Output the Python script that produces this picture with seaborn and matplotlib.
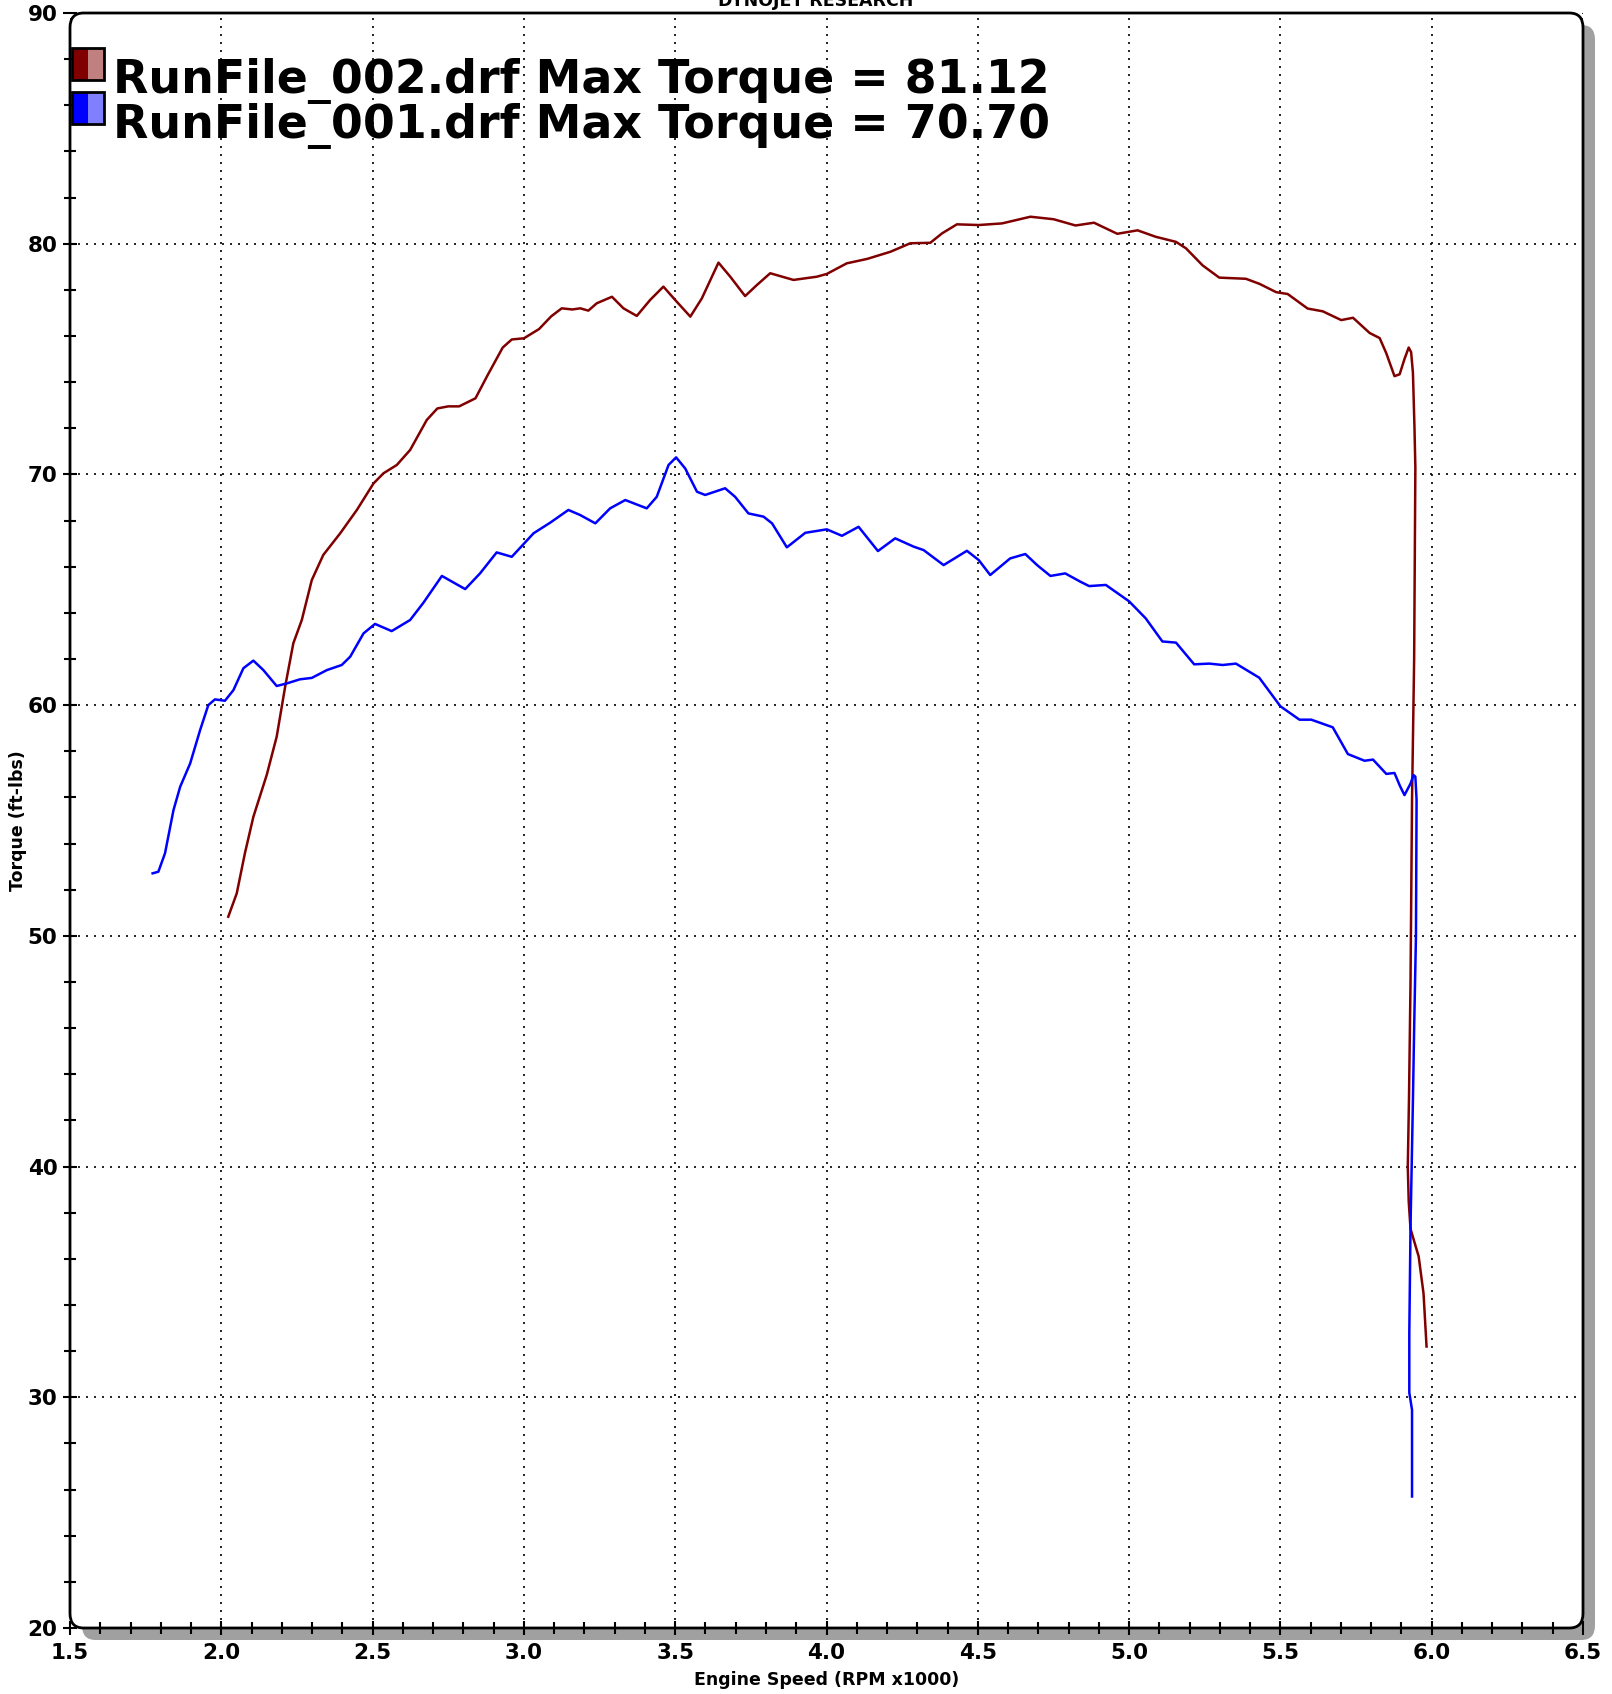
import numpy as np
import pandas as pd
import seaborn as sns
import matplotlib.pyplot as plt
from matplotlib.patches import FancyBboxPatch, Rectangle
from matplotlib.transforms import ScaledTranslation
from matplotlib.ticker import MultipleLocator

# RunFile_002 (red)
rpm_002 = [2.023, 2.051, 2.078, 2.106, 2.150, 2.183, 2.211, 2.238, 2.266, 2.299,
           2.337, 2.393, 2.448, 2.503, 2.536, 2.580, 2.624, 2.679, 2.714, 2.750,
           2.786, 2.840, 2.880, 2.930, 2.960, 3.000, 3.050, 3.090, 3.125, 3.160,
           3.186, 3.213, 3.241, 3.291, 3.329, 3.373, 3.417, 3.461, 3.500, 3.550,
           3.588, 3.643, 3.682, 3.731, 3.770, 3.814, 3.891, 3.968, 4.001, 4.067,
           4.134, 4.211, 4.277, 4.343, 4.382, 4.431, 4.503, 4.580, 4.674, 4.751,
           4.823, 4.884, 4.961, 5.028, 5.088, 5.155, 5.188, 5.243, 5.298, 5.386,
           5.431, 5.486, 5.524, 5.590, 5.640, 5.701, 5.740, 5.795, 5.828, 5.850,
           5.877, 5.894, 5.910, 5.924, 5.932, 5.938, 5.943, 5.946, 5.942, 5.935,
           5.930, 5.925, 5.921, 5.924, 5.930, 5.957, 5.973, 5.983]
tq_002 = [50.83, 51.84, 53.58, 55.16, 56.97, 58.63, 60.80, 62.68, 63.69, 65.42,
          66.51, 67.45, 68.46, 69.61, 70.05, 70.41, 71.06, 72.36, 72.86, 72.95,
          72.95, 73.30, 74.30, 75.50, 75.85, 75.90, 76.30, 76.85, 77.20, 77.15,
          77.20, 77.10, 77.42, 77.70, 77.20, 76.87, 77.56, 78.14, 77.56, 76.84,
          77.63, 79.18, 78.57, 77.73, 78.21, 78.72, 78.43, 78.57, 78.69, 79.15,
          79.34, 79.65, 80.02, 80.04, 80.45, 80.84, 80.81, 80.88, 81.17, 81.06,
          80.79, 80.91, 80.43, 80.58, 80.30, 80.08, 79.80, 79.06, 78.53, 78.48,
          78.26, 77.90, 77.82, 77.19, 77.07, 76.69, 76.79, 76.13, 75.91, 75.25,
          74.26, 74.34, 75.00, 75.50, 75.30, 74.40, 72.07, 70.30, 62.00, 55.90,
          48.00, 43.00, 40.00, 38.50, 37.30, 36.10, 34.50, 32.20]

# RunFile_001 (blue)
rpm_001 = [1.773, 1.792, 1.814, 1.842, 1.864, 1.897, 1.930, 1.957, 1.979, 2.012,
           2.040, 2.073, 2.106, 2.139, 2.183, 2.216, 2.260, 2.299, 2.349, 2.398,
           2.426, 2.470, 2.508, 2.563, 2.624, 2.668, 2.729, 2.806, 2.855, 2.910,
           2.960, 3.032, 3.087, 3.147, 3.186, 3.236, 3.285, 3.335, 3.406, 3.439,
           3.478, 3.503, 3.533, 3.572, 3.599, 3.665, 3.698, 3.742, 3.792, 3.820,
           3.869, 3.930, 4.001, 4.051, 4.106, 4.170, 4.227, 4.288, 4.321, 4.387,
           4.464, 4.503, 4.541, 4.607, 4.657, 4.696, 4.740, 4.789, 4.839, 4.868,
           4.923, 5.000, 5.055, 5.110, 5.155, 5.215, 5.265, 5.309, 5.353, 5.430,
           5.500, 5.563, 5.602, 5.673, 5.723, 5.778, 5.806, 5.850, 5.877, 5.895,
           5.910, 5.930, 5.940, 5.946, 5.950, 5.948, 5.942, 5.938, 5.930, 5.926,
           5.926, 5.935, 5.935]
tq_001 = [52.71, 52.78, 53.58, 55.45, 56.46, 57.47, 58.92, 60.00, 60.25, 60.19,
          60.65, 61.60, 61.93, 61.52, 60.83, 60.94, 61.12, 61.18, 61.52, 61.74,
          62.10, 63.11, 63.52, 63.21, 63.69, 64.44, 65.60, 65.03, 65.71, 66.62,
          66.43, 67.45, 67.91, 68.46, 68.24, 67.88, 68.53, 68.89, 68.53, 69.03,
          70.41, 70.74, 70.26, 69.25, 69.11, 69.40, 69.03, 68.31, 68.17, 67.88,
          66.84, 67.47, 67.62, 67.34, 67.73, 66.68, 67.23, 66.87, 66.72, 66.07,
          66.69, 66.29, 65.64, 66.36, 66.55, 66.07, 65.60, 65.71, 65.35, 65.16,
          65.21, 64.50, 63.76, 62.76, 62.71, 61.77, 61.80, 61.74, 61.80, 61.19,
          59.95, 59.37, 59.37, 59.04, 57.88, 57.59, 57.64, 57.02, 57.06, 56.50,
          56.10, 56.60, 56.97, 56.90, 55.90, 50.00, 46.00, 42.90, 37.40, 32.80,
          30.20, 29.45, 25.70]

run_names = ["RunFile_002.drf", "RunFile_001.drf"]
max_torque = ["81.12", "70.70"]
line_colors = ["#800000", "#0000ff"]
light_colors = ["#c08080", "#8080ff"]

df_002 = pd.DataFrame({"rpm": rpm_002, "torque": tq_002})
df_001 = pd.DataFrame({"rpm": rpm_001, "torque": tq_001})

W, H = 1612, 1694
fig = plt.figure(figsize=(W / 100, H / 100), dpi=100)
left, right, top, bottom = 70, 1583, 13, 1628
ax = fig.add_axes([left / W, 1 - bottom / H, (right - left) / W, (bottom - top) / H])

# shadow + rounded frame
shadow = FancyBboxPatch((0, 0), 1, 1, boxstyle="round,pad=0,rounding_size=0.009",
                        transform=ax.transAxes + ScaledTranslation(0.12, -0.12, fig.dpi_scale_trans),
                        facecolor="#a0a0a0", edgecolor="none", zorder=-1)
fig.add_artist(shadow)
ax.patch.set_visible(False)
frame = FancyBboxPatch((0, 0), 1, 1, boxstyle="round,pad=0,rounding_size=0.009",
                       transform=ax.transAxes, facecolor="white", edgecolor="black",
                       lw=2, zorder=-1, clip_on=False)
ax.add_patch(frame)
for s in ax.spines.values():
    s.set_visible(False)

sns.lineplot(data=df_002, x="rpm", y="torque", sort=False, estimator=None,
             color=line_colors[0], lw=1.8, ax=ax)
sns.lineplot(data=df_001, x="rpm", y="torque", sort=False, estimator=None,
             color=line_colors[1], lw=1.8, ax=ax)

ax.set_xlim(1.5, 6.5)
ax.set_ylim(20, 90)
ax.xaxis.set_major_locator(MultipleLocator(0.5))
ax.xaxis.set_minor_locator(MultipleLocator(0.1))
ax.yaxis.set_major_locator(MultipleLocator(10))
ax.yaxis.set_minor_locator(MultipleLocator(2))
ax.xaxis.set_major_formatter(plt.FormatStrFormatter("%.1f"))
ax.grid(True, which="major", color="black", lw=1.2, ls=(0, (1.2, 3.6)))
ax.set_axisbelow(True)
ax.tick_params(axis="both", which="both", direction="inout", width=1.5, color="black")
ax.tick_params(axis="both", which="major", length=10)
ax.tick_params(axis="both", which="minor", length=9)
ax.tick_params(axis="x", which="major", pad=6, labelsize=15.5)
ax.tick_params(axis="y", which="major", pad=4, labelsize=15.5)
for lab in ax.get_xticklabels() + ax.get_yticklabels():
    lab.set_fontweight("bold")

ax.set_xlabel("Engine Speed (RPM x1000)", fontsize=12.5, fontweight="bold")
ax.set_ylabel("Torque (ft-lbs)", fontsize=12.5, fontweight="bold")
ax.xaxis.set_label_coords(0.5, -(1680 - bottom) / (bottom - top))
ax.xaxis.label.set_va("center")
ax.yaxis.set_label_coords(-(left - 18) / (right - left), 0.5)
ax.yaxis.label.set_va("center")

# legend swatches + text
for i in range(2):
    y0 = 48 + i * 44.5
    fig.add_artist(Rectangle((72 / W, 1 - (y0 + 32) / H), 16 / W, 32 / H,
                             facecolor=line_colors[i], edgecolor="none"))
    fig.add_artist(Rectangle((88 / W, 1 - (y0 + 32) / H), 16 / W, 32 / H,
                             facecolor=light_colors[i], edgecolor="none"))
    fig.add_artist(Rectangle((72 / W, 1 - (y0 + 32) / H), 32 / W, 32 / H,
                             facecolor="none", edgecolor="black", lw=2))
    fig.text(113 / W, 1 - (93 + i * 45) / H,
             f"{run_names[i]} Max Torque = {max_torque[i]}",
             fontsize=33, fontweight="bold", va="baseline", ha="left")

fig.text(816 / W, 1 - 6 / H, "DYNOJET RESEARCH", fontsize=12.5, fontweight="bold",
         ha="center", va="baseline")

fig.savefig("out.png", dpi=100)
